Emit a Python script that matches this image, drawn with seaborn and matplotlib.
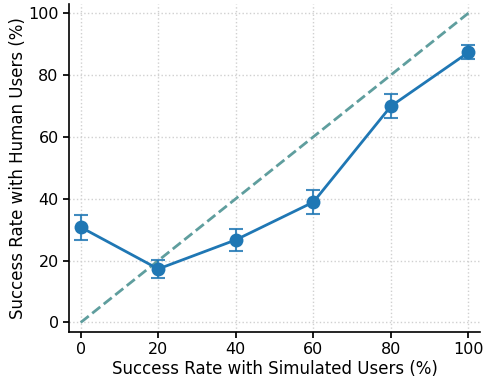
import matplotlib
matplotlib.use("Agg")
import matplotlib.pyplot as plt
import seaborn as sns
import pandas as pd

sim_rate = [0, 20, 40, 60, 80, 100]
human_rate = [30.8, 17.3, 26.7, 38.9, 69.9, 87.3]
err = [4.0, 3.0, 3.6, 3.9, 3.9, 2.3]
diag = [0, 100]

sns.set_theme(style="whitegrid")
plt.rcParams['font.family'] = ['DejaVu Sans']
plt.rcParams['text.color'] = 'black'
plt.rcParams['axes.labelcolor'] = 'black'
plt.rcParams['xtick.color'] = 'black'
plt.rcParams['ytick.color'] = 'black'

df = pd.DataFrame({"sim": sim_rate, "human": human_rate})

fig, ax = plt.subplots(figsize=(4.83, 3.77), dpi=100)
sns.lineplot(x=diag, y=diag, ax=ax, color="#5f9e9e", linestyle="--", linewidth=2)
ax.errorbar(sim_rate, human_rate, yerr=err, fmt="none", ecolor="#1f77b4",
            capsize=5, elinewidth=1.5, capthick=1.5, alpha=0.85, zorder=3)
sns.lineplot(data=df, x="sim", y="human", ax=ax, color="#1f77b4", linewidth=2,
             marker="o", markersize=10, markeredgewidth=0, zorder=4)

ax.set_xlim(-3, 103)
ax.set_ylim(-3, 103)
ax.set_xticks([0, 20, 40, 60, 80, 100])
ax.set_yticks([0, 20, 40, 60, 80, 100])
ax.set_xlabel("Success Rate with Simulated Users (%)", fontsize=12, labelpad=2)
ax.set_ylabel("Success Rate with Human Users (%)", fontsize=12, labelpad=1)
ax.tick_params(axis="both", labelsize=11.5, length=4, color="black", left=True, bottom=True)
ax.grid(True, linestyle=":", color="#d0d0d0", linewidth=1)
for s in ["top", "right"]:
    ax.spines[s].set_visible(False)
for s in ["left", "bottom"]:
    ax.spines[s].set_color("black")
    ax.spines[s].set_linewidth(1.2)
ax.set_facecolor("white")
fig.subplots_adjust(left=0.143, right=0.994, top=0.99, bottom=0.12)
fig.savefig("out.png", dpi=100)
